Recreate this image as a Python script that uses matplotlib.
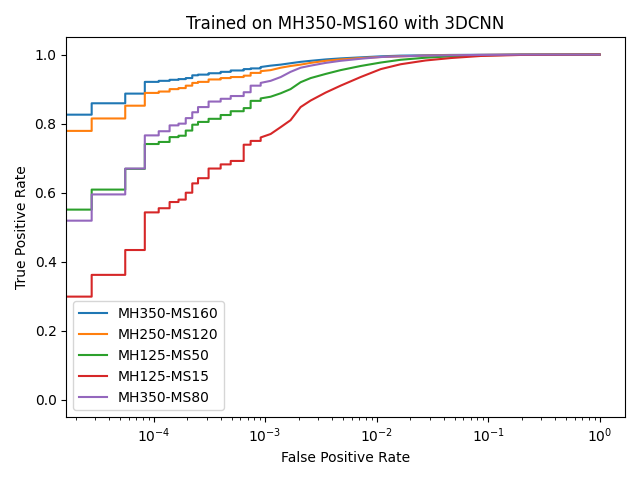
import numpy
from matplotlib import pyplot

# false positive rates (0 is the first threshold)
fpr = [0.0, 0.0, 2.78e-5, 5.56e-5, 8.33e-5, 1.11e-4, 1.39e-4, 1.67e-4, 1.94e-4,
       2.22e-4, 2.5e-4, 3.11e-4, 3.99e-4, 4.91e-4, 6.42e-4, 7.41e-4, 9.12e-4,
       1.12e-3, 1.38e-3, 1.69e-3, 2.08e-3, 2.56e-3, 3.49e-3, 4.75e-3, 7.19e-3,
       1.09e-2, 1.64e-2, 2.75e-2, 4.61e-2, 8.57e-2, 0.196, 1.0]

tpr_mh350_ms160 = [0.0, 0.826, 0.859, 0.887, 0.921, 0.924, 0.927, 0.929, 0.932, 0.940, 0.942,
                   0.946, 0.950, 0.954, 0.958, 0.960, 0.964, 0.968, 0.971, 0.975, 0.979,
                   0.982, 0.986, 0.989, 0.992, 0.995, 0.997, 0.998, 0.999, 0.9995, 1.0, 1.0]
tpr_mh250_ms120 = [0.0, 0.779, 0.815, 0.852, 0.889, 0.893, 0.900, 0.903, 0.910, 0.918, 0.921,
                   0.928, 0.932, 0.935, 0.939, 0.947, 0.952, 0.955, 0.962, 0.967, 0.971,
                   0.976, 0.982, 0.986, 0.990, 0.993, 0.995, 0.997, 0.998, 0.999, 1.0, 1.0]
tpr_mh125_ms50 = [0.0, 0.551, 0.609, 0.669, 0.741, 0.747, 0.761, 0.765, 0.780, 0.797, 0.805,
                  0.814, 0.825, 0.836, 0.845, 0.866, 0.873, 0.878, 0.888, 0.900, 0.920,
                  0.932, 0.944, 0.955, 0.967, 0.977, 0.985, 0.991, 0.995, 0.998, 0.9995, 1.0]
tpr_mh125_ms15 = [0.0, 0.299, 0.362, 0.434, 0.543, 0.555, 0.573, 0.580, 0.600, 0.627, 0.642,
                  0.670, 0.682, 0.692, 0.739, 0.750, 0.760, 0.770, 0.790, 0.810, 0.848,
                  0.867, 0.890, 0.910, 0.935, 0.958, 0.972, 0.983, 0.990, 0.996, 0.999, 1.0]
tpr_mh350_ms80 = [0.0, 0.519, 0.595, 0.670, 0.766, 0.778, 0.795, 0.800, 0.816, 0.833, 0.848,
                  0.864, 0.872, 0.880, 0.891, 0.910, 0.918, 0.924, 0.935, 0.950, 0.962,
                  0.968, 0.976, 0.982, 0.988, 0.993, 0.995, 0.997, 0.998, 0.999, 1.0, 1.0]

curves = [('MH350-MS160', tpr_mh350_ms160),
          ('MH250-MS120', tpr_mh250_ms120),
          ('MH125-MS50', tpr_mh125_ms50),
          ('MH125-MS15', tpr_mh125_ms15),
          ('MH350-MS80', tpr_mh350_ms80)]

# the curves are visibly stepped up to ~1e-3, beyond that the steps are too fine to see
n_steps = 17


def roc_points(x, y):
    x = numpy.asarray(x)
    y = numpy.asarray(y)
    # corners of the stepped part, then the dense part as a plain line
    xs = numpy.repeat(x[:n_steps], 2)[1:]
    ys = numpy.repeat(y[:n_steps], 2)[:-1]
    return numpy.concatenate([xs, x[n_steps - 1:]]), numpy.concatenate([ys, y[n_steps - 1:]])


fig = pyplot.figure(figsize=(6.4, 4.8), dpi=100)
for name, tpr in curves:
    xs, ys = roc_points(fpr, tpr)
    pyplot.plot(xs, ys, label=name)
pyplot.xscale('log')
pyplot.xlabel('False Positive Rate')
pyplot.ylabel('True Positive Rate')
pyplot.title('Trained on MH350-MS160 with 3DCNN')
pyplot.legend(loc='lower left')
fig.tight_layout()
pyplot.savefig('out.png', dpi=100)
